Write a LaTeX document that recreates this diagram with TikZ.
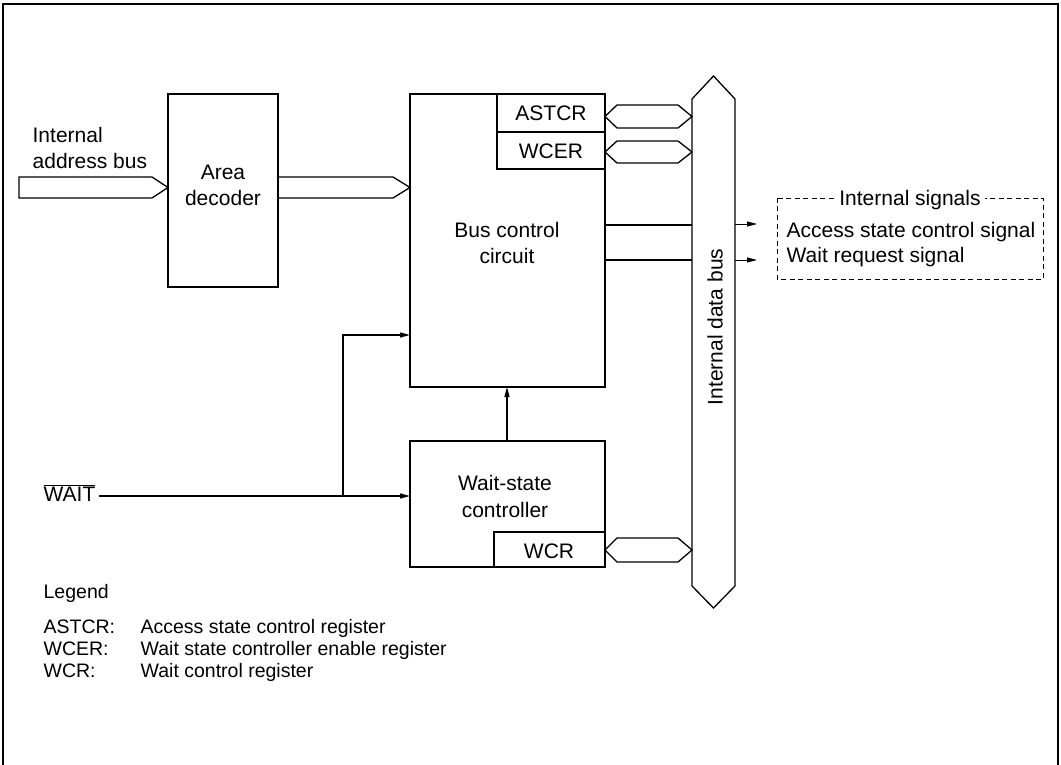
\documentclass[tikz,border=0pt]{standalone}
\usepackage{fontspec}
\setmainfont{Liberation Sans}
\usetikzlibrary{calc,arrows.meta}
\newcommand{\myfs}{\fontsize{21}{25}\selectfont}
\newcommand{\legfs}{\fontsize{19.5}{23}\selectfont}
\begin{document}
\begin{tikzpicture}[x=1pt,y=-1pt,line width=1.3pt,
  blk/.style={draw,anchor=north west,inner sep=0pt,outer sep=0pt},
  txt/.style={font=\myfs,inner sep=0pt,anchor=base},
  ltxt/.style={font=\myfs,inner sep=0pt,anchor=base west},
  legtxt/.style={font=\legfs,inner sep=0pt,anchor=base west},
  sig/.style={-{Triangle[length=10pt,width=5pt]}},
  dashbox/.style={line width=0.9pt,dash pattern=on 5pt off 3.5pt}]
\useasboundingbox (0,0) rectangle (1061,765);
% frame
\draw (3,765) -- (3,4) -- (1058,4) -- (1058,765);

% blocks
\node[blk,minimum width=110pt,minimum height=193pt] (dec) at (168,94) {};
\node[blk,minimum width=195pt,minimum height=293pt] (bcc) at (410,94) {};
\node[blk,minimum width=108pt,minimum height=38pt] (astcr) at (497,94) {};
\node[blk,minimum width=108pt,minimum height=37pt] (wcer) at (497,132) {};
\node[blk,minimum width=195pt,minimum height=126pt] (wsc) at (410,441) {};
\node[blk,minimum width=111pt,minimum height=35pt] (wcr) at (494,532) {};

% texts in blocks
\node[txt] (dect1) at (223,180) {Area};
\node[txt] (dect2) at (223,206) {decoder};
\node[txt] (bcct1) at (507,237) {Bus control};
\node[txt] (bcct2) at (507,263) {circuit};
\node[txt] (astcrt) at (551,121) {ASTCR};
\node[txt] (wcert) at (551,159) {WCER};
\node[txt] (wsct1) at (505,490) {Wait-state};
\node[txt] (wsct2) at (505,517) {controller};
\node[txt] (wcrt) at (549,558) {WCR};

% address bus
\node[ltxt] (iab1) at (32,143) {Internal};
\node[ltxt] (iab2) at (32,168) {address bus};
\draw (19,177) -- (152,177) -- (dec.west |- 0,187.5) -- (152,198) -- (19,198) -- cycle;
\draw (dec.east |- 0,177) -- (393,177) -- (bcc.west |- 0,187.5) -- (393,198) -- (dec.east |- 0,198);

% internal data bus
\coordinate (dbtop) at (713.5,76);
\coordinate (dbbot) at (713.5,608);
\draw (dbtop) -- (735,99) -- (735,586) -- (dbbot) -- (692,586) -- (692,99) -- cycle;
\node[font=\myfs,inner sep=0pt,rotate=90] (dbt) at (715,327) {Internal data bus};

% register buses
\draw (astcr.east |- 0,116.5) -- (617,105) -- (678,105) -- (692,116.5) -- (678,128) -- (617,128) -- cycle;
\draw (wcer.east |- 0,152) -- (617,141) -- (678,141) -- (692,152) -- (678,163) -- (617,163) -- cycle;
\draw (wcr.east |- 0,550) -- (617,538) -- (678,538) -- (692,550) -- (678,562) -- (617,562) -- cycle;

% internal signals
\draw (bcc.east |- 0,225) -- (692,225);
\draw (bcc.east |- 0,260) -- (692,260);
\coordinate (s1) at (735,224);
\coordinate (s2) at (735,260);
\draw[sig,line width=1pt] (s1) -- ++(22,0);
\draw[sig,line width=1pt] (s2) -- ++(22,0);
\draw[dashbox] (777,198) rectangle (1043,279);
\node[txt,fill=white,inner xsep=4pt,inner ysep=2pt] (ist) at (910,205) {Internal signals};
\node[ltxt] (as) at (786,237) {Access state control signal};
\node[ltxt] (wr) at (786,262) {Wait request signal};

% WAIT and control arrows
\node[ltxt] (wait) at (43,501) {$\overline{\mbox{WAIT}}$};
\coordinate (j) at (343,496);
\coordinate (k) at (343,335);
\draw ([xshift=3pt]wait.east |- j) -- (j);
\draw[sig] (j) -- (j -| wsc.west);
\draw[sig] (j) -- (k) -- (k -| bcc.west);
\draw[sig] (wsc.north -| 507,0) -- (bcc.south -| 507,0);

% legend
\node[legtxt] (leg) at (43,598) {Legend};
\node[legtxt] (l1a) at (43,633) {ASTCR:};
\node[legtxt] (l1b) at (140,633) {Access state control register};
\node[legtxt] (l2a) at (43,655) {WCER:};
\node[legtxt] (l2b) at (140,655) {Wait state controller enable register};
\node[legtxt] (l3a) at (43,677) {WCR:};
\node[legtxt] (l3b) at (140,677) {Wait control register};
\end{tikzpicture}
\end{document}
